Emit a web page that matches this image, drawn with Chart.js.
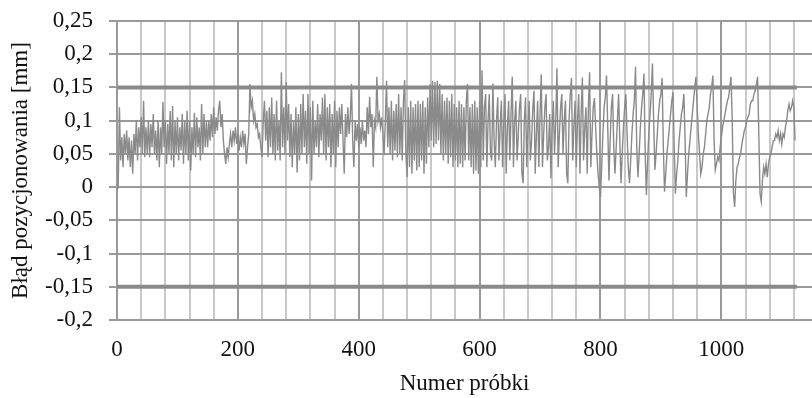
<!DOCTYPE html>
<html>
<head>
<meta charset="utf-8">
<script src="https://cdn.jsdelivr.net/npm/chart.js@4.4.1/dist/chart.umd.min.js"></script>
<style>
  html, body { margin: 0; padding: 0; background: #fff; }
  #chart { display: block; }
</style>
</head>
<body>
<canvas id="chart" width="812" height="398"></canvas>
<script>
// values, one every 2 samples (0, 2, 4 ... 1122)
var sampleStep = 2;
var errorMm = [
  -0.005, 0.0, 0.12, 0.04, 0.075, 0.03, 0.08, 0.05, 0.085, 0.04, 0.075, 0.03, 0.07, 0.02, 0.08, 0.05, 0.1, 0.04, 0.09, 0.06, 0.105, 0.05, 0.13, 0.045, 0.09,
  0.05, 0.1, 0.045, 0.095, 0.06, 0.11, 0.05, 0.085, 0.04, 0.1, 0.03, 0.09, 0.05, 0.128, 0.06, 0.1, 0.035, 0.095, 0.05, 0.115, 0.04, 0.122, 0.03, 0.1, 0.05,
  0.105, 0.04, 0.09, 0.055, 0.11, 0.035, 0.1, 0.05, 0.115, 0.04, 0.1, 0.025, 0.09, 0.05, 0.112, 0.045, 0.105, 0.06, 0.09, 0.04, 0.125, 0.05, 0.11, 0.06, 0.1,
  0.06, 0.1, 0.07, 0.11, 0.075, 0.12, 0.08, 0.105, 0.085, 0.115, 0.13, 0.09, 0.11, 0.07, 0.05, 0.035, 0.06, 0.045, 0.065, 0.08, 0.06, 0.085, 0.07, 0.09, 0.065,
  0.08, 0.055, 0.075, 0.06, 0.085, 0.065, 0.08, 0.035, 0.06, 0.08, 0.155, 0.12, 0.13, 0.1, 0.11, 0.09, 0.095, 0.075, 0.08, 0.06, 0.045, 0.1, 0.13, 0.07, 0.115,
  0.045, 0.12, 0.06, 0.135, 0.05, 0.11, 0.04, 0.13, 0.055, 0.1, 0.04, 0.173, 0.06, 0.12, 0.05, 0.158, 0.07, 0.125, 0.045, 0.11, 0.03, 0.1, 0.05, 0.12, 0.022,
  0.11, 0.04, 0.125, 0.05, 0.14, 0.06, 0.115, 0.035, 0.14, 0.05, 0.12, 0.01, 0.13, 0.05, 0.1, 0.06, 0.125, 0.045, 0.11, 0.07, 0.135, 0.05, 0.14, 0.04, 0.12,
  0.06, 0.125, 0.03, 0.11, 0.05, 0.13, 0.03, 0.115, 0.06, 0.12, 0.08, 0.125, 0.07, 0.02, 0.11, 0.075, 0.12, 0.08, 0.105, 0.155, 0.07, 0.03, 0.1, 0.07, 0.095,
  0.06, 0.09, 0.065, 0.1, 0.07, 0.085, 0.06, 0.12, 0.08, 0.136, 0.09, 0.11, 0.03, 0.1, 0.09, 0.166, 0.1, 0.11, 0.09, 0.105, 0.08, 0.048, 0.1, 0.16, 0.06,
  0.12, 0.05, 0.13, 0.04, 0.115, 0.055, 0.125, 0.045, 0.14, 0.05, 0.12, 0.04, 0.13, 0.161, 0.05, 0.015, 0.12, 0.03, 0.13, 0.02, 0.12, 0.04, 0.125, 0.025, 0.13,
  0.03, 0.125, 0.04, 0.13, 0.02, 0.12, 0.035, 0.135, 0.06, 0.155, 0.07, 0.16, 0.06, 0.158, 0.065, 0.16, 0.07, 0.155, 0.05, 0.14, 0.04, 0.13, 0.05, 0.135, 0.035,
  0.13, 0.045, 0.14, 0.03, 0.125, 0.04, 0.12, 0.03, 0.13, 0.035, 0.125, 0.03, 0.12, 0.04, 0.13, 0.155, 0.04, 0.12, 0.03, 0.125, 0.02, 0.13, 0.025, 0.12, 0.02,
  0.13, 0.03, 0.176, 0.04, 0.12, 0.14, 0.03, 0.1, 0.14, 0.05, 0.04, 0.156, 0.07, 0.03, 0.1, 0.135, 0.04, 0.09, 0.13, 0.03, 0.1, 0.14, 0.02, 0.09, 0.13,
  0.04, 0.11, 0.166, 0.03, 0.1, 0.13, 0.04, 0.08, 0.12, 0.14, 0.02, 0.006, 0.1, 0.135, 0.03, 0.09, 0.13, 0.04, 0.07, 0.12, 0.145, 0.02, 0.08, 0.13, 0.03,
  0.11, 0.17, 0.03, 0.08, 0.12, 0.14, 0.04, 0.06, 0.11, 0.013, 0.09, 0.13, 0.05, 0.1, 0.179, 0.03, 0.08, 0.12, 0.14, 0.05, 0.1, 0.13, 0.02, 0.006, 0.1,
  0.14, 0.164, 0.04, 0.09, 0.13, 0.03, 0.1, 0.14, 0.02, 0.11, 0.165, 0.04, 0.09, 0.12, 0.02, 0.12, 0.173, 0.03, 0.08, 0.12, 0.134, 0.09, 0.05, 0.02, 0.0,
  -0.015, 0.03, 0.08, 0.12, 0.135, 0.168, 0.09, 0.01, 0.07, 0.12, 0.14, 0.06, 0.02, 0.06, 0.1, 0.14, 0.07, 0.006, 0.05, 0.09, 0.12, 0.14, 0.08, 0.03, 0.006,
  0.04, 0.08, 0.11, 0.13, 0.181, 0.06, 0.015, 0.05, 0.09, 0.12, 0.14, 0.171, 0.05, -0.012, 0.04, 0.08, 0.11, 0.14, 0.186, 0.1, 0.026, 0.05, 0.08, 0.11, 0.13,
  0.14, 0.164, 0.06, -0.007, 0.02, 0.05, 0.07, 0.09, 0.11, 0.13, 0.143, 0.06, -0.01, 0.02, 0.04, 0.07, 0.09, 0.11, 0.12, 0.14, 0.07, -0.015, 0.02, 0.05, 0.07,
  0.09, 0.11, 0.13, 0.15, 0.166, 0.12, 0.08, 0.05, 0.02, 0.03, 0.05, 0.06, 0.08, 0.1, 0.11, 0.12, 0.14, 0.15, 0.168, 0.07, 0.026, 0.035, 0.045, 0.04, 0.06,
  0.075, 0.09, 0.1, 0.11, 0.12, 0.13, 0.135, 0.15, 0.166, 0.1, -0.01, -0.03, 0.01, 0.03, 0.035, 0.045, 0.05, 0.065, 0.075, 0.085, 0.09, 0.1, 0.105, 0.11, 0.125,
  0.13, 0.13, 0.14, 0.145, 0.155, 0.166, 0.08, -0.01, -0.022, 0.01, 0.03, 0.02, 0.035, 0.015, 0.035, 0.045, 0.05, 0.06, 0.07, 0.07, 0.08, 0.075, 0.085, 0.07, 0.08,
  0.065, 0.08, 0.075, 0.09, 0.1, 0.115, 0.125, 0.115, 0.12, 0.13, 0.12, 0.07
];

// tolerance lines
var limitLevels = [0.15, -0.15];
var limitEnd = 1125;

// axes
var xMax = 1150;
var xGridStep = 40;
var xLabelStep = 200;
var yMin = -0.2;
var yMax = 0.25;
var yStep = 0.05;

var fontFamily = '"Liberation Serif", "Times New Roman", serif';

var points = errorMm.map(function (v, i) {
    return { x: i * sampleStep, y: v };
});

var limitSets = limitLevels.map(function (lvl) {
    return {
        data: [{ x: 0, y: lvl }, { x: limitEnd, y: lvl }],
        borderColor: '#8a8a8a',
        borderWidth: 4,
        pointRadius: 0
    };
});

function fmtY(v) {
    var r = Math.round(v * 100) / 100;
    if (r === 0) return '0';
    return String(r).replace('.', ',');
}

var ctx = document.getElementById('chart');
var chart = new Chart(ctx, {
    type: 'line',
    data: {
        datasets: limitSets.concat([{
            data: points,
            borderColor: '#8a8a8a',
            borderWidth: 1.4,
            pointRadius: 0,
            tension: 0
        }])
    },
    options: {
        responsive: false,
        animation: false,
        devicePixelRatio: 1,
        layout: { padding: { top: 21, right: 0, left: 0, bottom: 0 } },
        plugins: { legend: { display: false }, tooltip: { enabled: false } },
        scales: {
            x: {
                type: 'linear',
                min: 0,
                max: xMax,
                afterFit: function (scale) {
                    scale.height = 78;
                    scale.paddingLeft = 0;
                    scale.paddingRight = 0;
                },
                ticks: {
                    stepSize: xGridStep,
                    autoSkip: false,
                    maxRotation: 0,
                    includeBounds: false,
                    padding: 16,
                    color: '#111',
                    font: { family: fontFamily, size: 23 },
                    callback: function (v) { return v % xLabelStep === 0 ? String(v) : ''; }
                },
                grid: {
                    drawTicks: false,
                    lineWidth: 2,
                    color: function (c) {
                        return c.tick && c.tick.value % xLabelStep === 0 ? '#9a9a9a' : '#c8c8c8';
                    }
                },
                border: { color: '#9a9a9a', width: 2 },
                title: {
                    display: true,
                    text: 'Numer próbki',
                    color: '#111',
                    font: { family: fontFamily, size: 23 },
                    padding: { top: 0, bottom: 0 }
                }
            },
            y: {
                min: yMin,
                max: yMax,
                afterFit: function (scale) {
                    scale.width = 117;
                    scale.paddingTop = 0;
                    scale.paddingBottom = 0;
                },
                ticks: {
                    stepSize: yStep,
                    padding: 16,
                    color: '#111',
                    font: { family: fontFamily, size: 23 },
                    callback: function (v) { return fmtY(v); }
                },
                grid: {
                    lineWidth: 2,
                    color: '#9a9a9a',
                    tickLength: 8
                },
                border: { color: '#9a9a9a', width: 2 },
                title: {
                    display: true,
                    text: 'Błąd pozycjonowania [mm]',
                    color: '#111',
                    font: { family: fontFamily, size: 23 },
                    padding: { top: 7, bottom: 0 }
                }
            }
        }
    }
});
</script>
</body>
</html>
